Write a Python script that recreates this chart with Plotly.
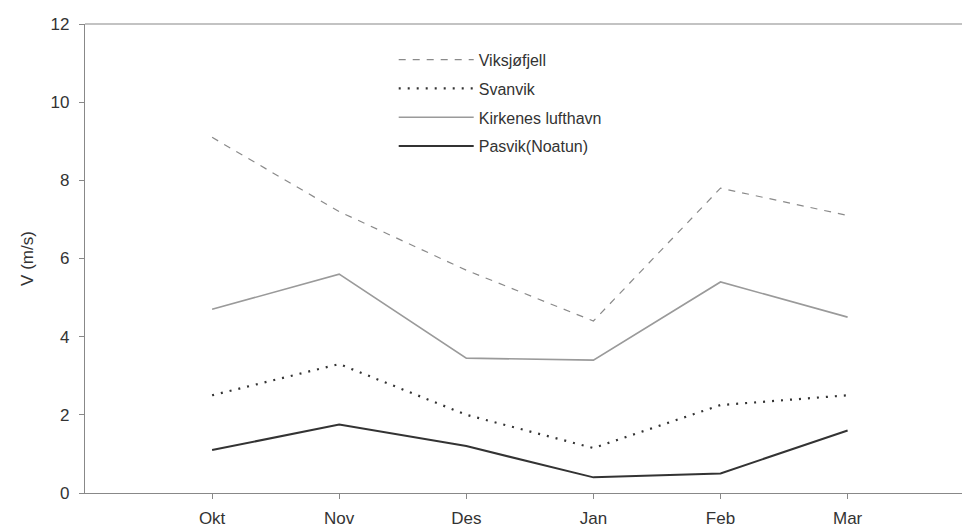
import plotly.graph_objects as go

months = ["Okt", "Nov", "Des", "Jan", "Feb", "Mar"]

viksjofjell = [9.1, 7.2, 5.7, 4.4, 7.8, 7.1]
svanvik = [2.5, 3.3, 2.0, 1.15, 2.25, 2.5]
kirkenes = [4.7, 5.6, 3.45, 3.4, 5.4, 4.5]
pasvik = [1.1, 1.75, 1.2, 0.4, 0.5, 1.6]

font = "Liberation Sans, Arial, sans-serif"

fig = go.Figure()

# one trace per station, styled like the scanned figure
fig.add_trace(go.Scatter(x=months, y=viksjofjell, name="Viksjøfjell", mode="lines", legendgroup="a",
                         line=dict(color="#8a8a8a", width=1.2, dash="7px,7px")))
fig.add_trace(go.Scatter(x=months, y=svanvik, name="Svanvik", mode="lines", legendgroup="b",
                         line=dict(color="#333333", width=2.2, dash="2px,7px")))
fig.add_trace(go.Scatter(x=months, y=kirkenes, name="Kirkenes lufthavn", mode="lines", legendgroup="c",
                         line=dict(color="#9a9a9a", width=1.6)))
fig.add_trace(go.Scatter(x=months, y=pasvik, name="Pasvik(Noatun)", mode="lines", legendgroup="d",
                         line=dict(color="#333333", width=2)))

fig.update_layout(
    width=962, height=528,
    margin=dict(l=85, r=0, t=24, b=35),
    paper_bgcolor="white", plot_bgcolor="white",
    font=dict(family=font, size=17, color="#333333"),
    showlegend=True,
    legend=dict(x=0.352, y=0.96, xanchor="left", yanchor="top",
                bgcolor="rgba(0,0,0,0)", itemwidth=75, tracegroupgap=5,
                font=dict(size=16, color="#333333")),
)

# top frame line of the plot area
fig.add_shape(type="line", xref="paper", yref="paper", x0=0, x1=1, y0=1, y1=1,
              line=dict(color="#888888", width=1.2))

fig.update_xaxes(range=[-1, 5.9], showline=True, linecolor="#888888", linewidth=1.2,
                 automargin=False, ticks="outside", ticklen=5, tickcolor="#888888",
                 ticklabelstandoff=4, showgrid=False, zeroline=False, tickfont=dict(size=17))
fig.update_yaxes(range=[0, 12], dtick=2, showline=True, linecolor="#888888", linewidth=1.2,
                 automargin=False, ticks="outside", ticklen=5, tickcolor="#888888", showgrid=False,
                 ticklabelstandoff=6, zeroline=False, tickfont=dict(size=17),
                 title=dict(text="V (m/s)", font=dict(size=17), standoff=12))

# drop the browser's default body margin so the figure fills the window
fig.write_html("out.html", config={"displayModeBar": False},
               post_script="document.body.style.margin='0';document.body.style.overflow='hidden';")
